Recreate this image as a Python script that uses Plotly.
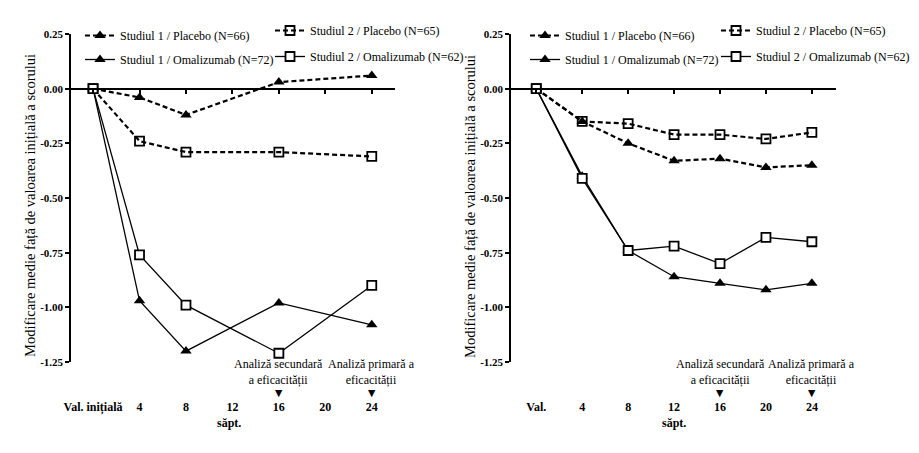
import plotly.graph_objects as go

# weeks of measurement
weeks_left = [0, 4, 8, 16, 24]
weeks_right = [0, 4, 8, 12, 16, 20, 24]

series_names = [
    "Studiul 1 / Placebo (N=66)",
    "Studiul 1 / Omalizumab (N=72)",
    "Studiul 2 / Placebo (N=65)",
    "Studiul 2 / Omalizumab (N=62)",
]

# left panel
left_s1_placebo = [0.0, -0.04, -0.12, 0.03, 0.06]
left_s1_omalizumab = [0.0, -0.97, -1.20, -0.98, -1.08]
left_s2_placebo = [0.0, -0.24, -0.29, -0.29, -0.31]
left_s2_omalizumab = [0.0, -0.76, -0.99, -1.21, -0.90]

# right panel
right_s1_placebo = [0.0, -0.15, -0.25, -0.33, -0.32, -0.36, -0.35]
right_s1_omalizumab = [0.0, -0.40, -0.74, -0.86, -0.89, -0.92, -0.89]
right_s2_placebo = [0.0, -0.15, -0.16, -0.21, -0.21, -0.23, -0.20]
right_s2_omalizumab = [0.0, -0.41, -0.74, -0.72, -0.80, -0.68, -0.70]

x_tick_vals = [0, 4, 8, 12, 16, 20, 24]
x_tick_text_left = ["Val. inițială", "4", "8", "12", "16", "20", "24"]
x_tick_text_right = ["Val.", "4", "8", "12", "16", "20", "24"]

y_tick_vals = [0.25, 0.0, -0.25, -0.5, -0.75, -1.0, -1.25]
y_tick_text = ["0.25", "0.00", "-0.25", "-0.50", "-0.75", "-1.00", "-1.25"]

analysis_weeks = [16, 24]
analysis_labels = ["Analiză secundară<br>a eficacității", "Analiză primară a<br>eficacității"]

y_title = "Modificare medie față de valoarea inițială a scorului"
x_title = "săpt."

FONT = "Liberation Serif, Times New Roman, serif"
W, H = 919, 453

# plot area in pixels (y: 0.25 at top, -1.25 at bottom)
Y_TOP, Y_BOT = 34, 362
y_dom = [1 - Y_BOT / H, 1 - Y_TOP / H]
zero_pos = y_dom[0] + (0 - (-1.25)) / 1.5 * (y_dom[1] - y_dom[0])

# dash, symbol, marker fill, line width
styles = [
    ("5px,3px", "triangle-up", "black", 2.2),
    ("solid", "triangle-up", "black", 1.3),
    ("5px,3px", "square-open", "black", 2.2),
    ("solid", "square", "white", 1.3),
]

panels = [
    dict(xa="x", ya="y", px0=71, px1=395, xr=[-1.9, 26.0], weeks=weeks_left,
         data=[left_s1_placebo, left_s1_omalizumab, left_s2_placebo, left_s2_omalizumab],
         ticks=x_tick_text_left, legends=("legend", "legend2"), leg_x=(80, 270),
         title_x=30, sapt_week=11.7),
    dict(xa="x2", ya="y2", px0=511, px1=836, xr=[-2.2, 26.1], weeks=weeks_right,
         data=[right_s1_placebo, right_s1_omalizumab, right_s2_placebo, right_s2_omalizumab],
         ticks=x_tick_text_right, legends=("legend3", "legend4"), leg_x=(525, 716),
         title_x=470, sapt_week=12),
]

fig = go.Figure()
annotations = []
layout = {}

for i, p in enumerate(panels):
    for k, (name, vals) in enumerate(zip(series_names, p["data"])):
        dash, symbol, fill, lw = styles[k]
        fig.add_trace(go.Scatter(
            x=p["weeks"], y=vals, name=name, mode="lines+markers",
            xaxis=p["xa"], yaxis=p["ya"],
            legend=p["legends"][k // 2], legendgroup=f"{i}-{k}",
            line=dict(color="black", width=lw, dash=dash),
            marker=dict(symbol=symbol, size=10 if "triangle" in symbol else 9,
                        color=fill, line=dict(color="black", width=1.8 if "square" in symbol else 0)),
            cliponaxis=False,
        ))

    xkey = "xaxis" if p["xa"] == "x" else "xaxis2"
    ykey = "yaxis" if p["ya"] == "y" else "yaxis2"
    layout[xkey] = dict(
        domain=[p["px0"] / W, p["px1"] / W], range=p["xr"],
        anchor="free", position=zero_pos,
        showline=True, linecolor="black", linewidth=1.5,
        ticks="outside", ticklen=5, tickwidth=1.5, tickcolor="black",
        tickvals=x_tick_vals, ticktext=p["ticks"],
        tickfont=dict(family=FONT, size=12, color="black", weight="bold"),
        ticklabelstandoff=302, automargin=False,
        showgrid=False, zeroline=False,
    )
    layout[ykey] = dict(
        domain=y_dom, range=[-1.25, 0.25], anchor=p["xa"],
        showline=True, linecolor="black", linewidth=1.5,
        ticks="outside", ticklen=4, tickwidth=1.5, tickcolor="black",
        tickvals=y_tick_vals, ticktext=y_tick_text,
        tickfont=dict(family=FONT, size=11, color="black", weight="bold"),
        automargin=False, showgrid=False, zeroline=False,
    )

    for j, lk in enumerate(p["legends"]):
        layout[lk] = dict(
            x=p["leg_x"][j] / W, y=1 - (21 if j == 0 else 16) / H,
            xanchor="left", yanchor="top", traceorder="grouped",
            tracegroupgap=5 if j == 0 else 7,
            bgcolor="rgba(0,0,0,0)", itemwidth=30,
            font=dict(family=FONT, size=12, color="black"),
        )

    annotations.append(dict(
        text=y_title, textangle=-90, xref="paper", yref="paper",
        x=p["title_x"] / W, y=1 - 206 / H, xanchor="center", yanchor="middle",
        showarrow=False, font=dict(family=FONT, size=14.5, color="black"),
    ))
    annotations.append(dict(
        text=f"<b>{x_title}</b>", xref=p["xa"], yref="paper",
        x=p["sapt_week"], y=1 - 423 / H, xanchor="center", yanchor="middle",
        showarrow=False, font=dict(family=FONT, size=12, color="black"),
    ))
    for wk, lab in zip(analysis_weeks, analysis_labels):
        annotations.append(dict(
            text=lab, xref=p["xa"], yref="paper", x=wk, y=1 - 372 / H,
            xanchor="center", yanchor="middle", showarrow=False, align="center",
            font=dict(family=FONT, size=12, color="black"),
        ))
        annotations.append(dict(
            text="▼", xref=p["xa"], yref="paper", x=wk, y=1 - 392 / H,
            xanchor="center", yanchor="middle", showarrow=False,
            font=dict(family="DejaVu Sans", size=9.5, color="black"),
        ))

fig.update_layout(
    width=W, height=H,
    margin=dict(l=0, r=0, t=0, b=0, autoexpand=False),
    paper_bgcolor="white", plot_bgcolor="white",
    annotations=annotations,
    showlegend=True,
    **layout,
)

fig.write_html(
    "out.html",
    config={"displayModeBar": False},
    post_script="document.body.style.margin = '0';",
)
